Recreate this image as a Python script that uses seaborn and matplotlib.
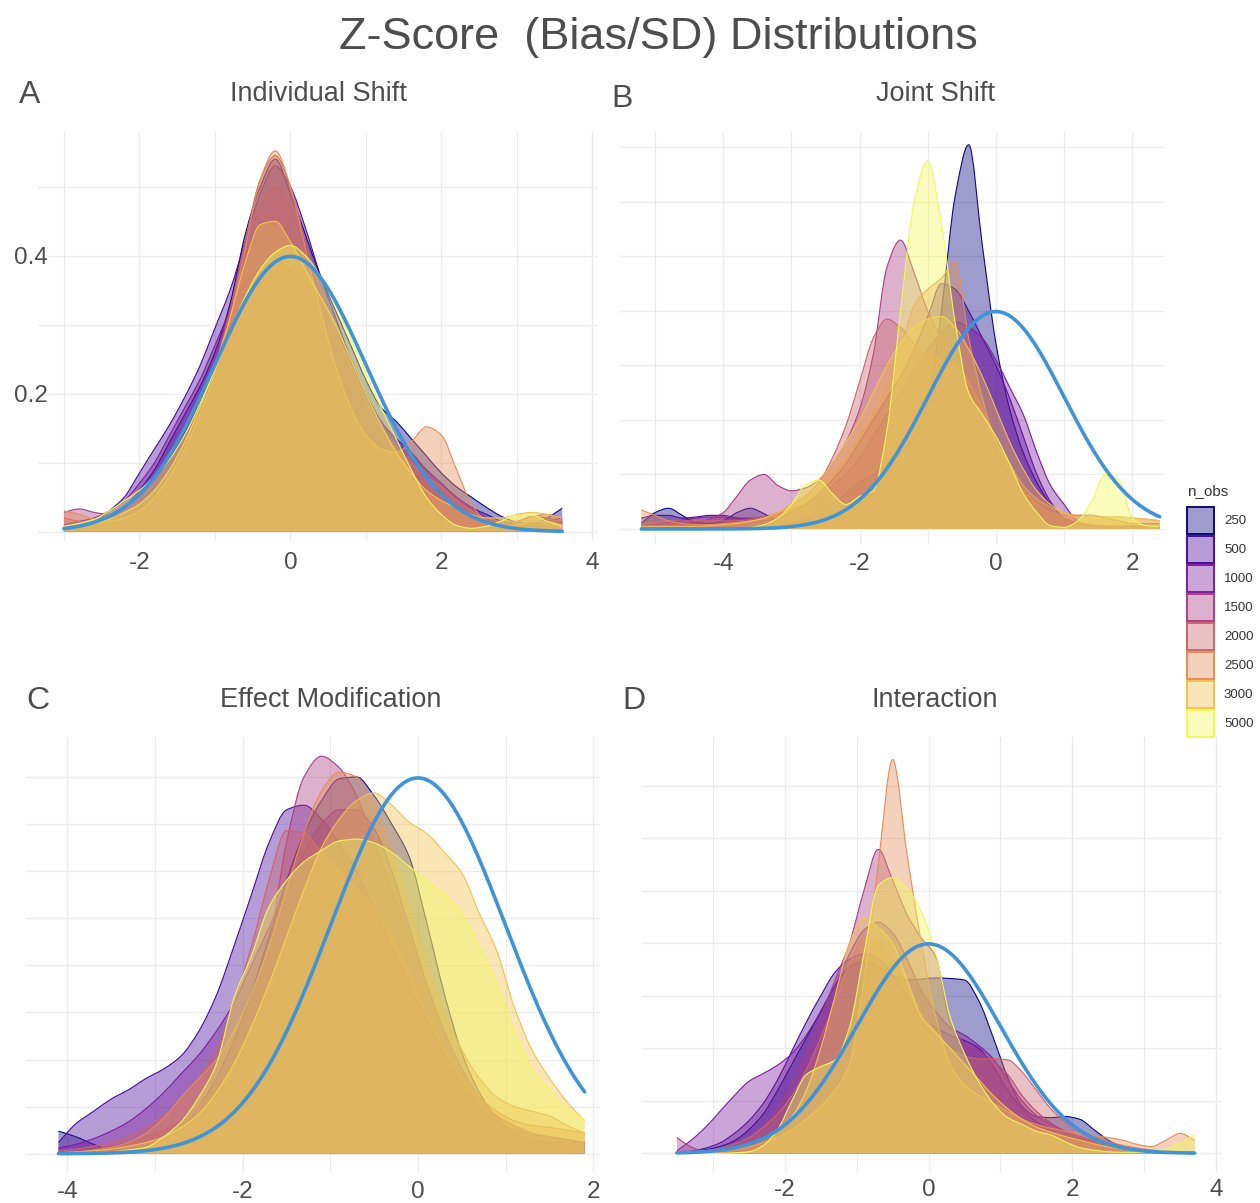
import numpy as np
import pandas as pd
import matplotlib
matplotlib.use("Agg")
import matplotlib.pyplot as plt
from matplotlib.colors import to_rgba
from matplotlib.patches import Patch, PathPatch
from matplotlib.path import Path
import seaborn as sns

# ------------------------------------------------------------------
# Z-score density estimates per sample size (n_obs), evaluated on a
# regular z grid for each simulation scenario.
# ------------------------------------------------------------------
n_obs = [250, 500, 1000, 1500, 2000, 2500, 3000, 5000]

# A: Individual Shift  (z = -3.0 ... 3.6, step 0.2)
x_ind = np.round(np.arange(-3.0, 3.6 + 1e-9, 0.2), 1)
ind_250 = [0.005, 0.006, 0.010, 0.020, 0.035, 0.060, 0.090, 0.130, 0.170, 0.210,
           0.260, 0.330, 0.430, 0.500, 0.540, 0.490, 0.430, 0.370, 0.320, 0.270,
           0.220, 0.180, 0.160, 0.135, 0.110, 0.085, 0.065, 0.050, 0.035, 0.022,
           0.014, 0.012, 0.020, 0.034]
ind_500 = [0.002, 0.004, 0.012, 0.030, 0.050, 0.085, 0.120, 0.155, 0.195, 0.240,
           0.295, 0.350, 0.420, 0.490, 0.530, 0.500, 0.440, 0.370, 0.310, 0.250,
           0.200, 0.160, 0.135, 0.115, 0.090, 0.070, 0.050, 0.035, 0.025, 0.015,
           0.010, 0.008, 0.010, 0.015]
ind_1000 = [0.010, 0.015, 0.020, 0.030, 0.045, 0.070, 0.100, 0.140, 0.180, 0.220,
            0.270, 0.320, 0.360, 0.380, 0.385, 0.380, 0.360, 0.330, 0.290, 0.250,
            0.200, 0.160, 0.130, 0.110, 0.090, 0.070, 0.050, 0.035, 0.020, 0.012,
            0.008, 0.010, 0.015, 0.020]
ind_1500 = [0.028, 0.033, 0.028, 0.025, 0.030, 0.045, 0.070, 0.100, 0.140, 0.190,
            0.250, 0.320, 0.400, 0.470, 0.500, 0.470, 0.410, 0.350, 0.290, 0.230,
            0.180, 0.140, 0.120, 0.100, 0.080, 0.060, 0.040, 0.025, 0.015, 0.012,
            0.015, 0.022, 0.020, 0.012]
ind_2000 = [0.020, 0.015, 0.012, 0.015, 0.025, 0.040, 0.060, 0.090, 0.130, 0.180,
            0.240, 0.320, 0.420, 0.510, 0.545, 0.500, 0.420, 0.350, 0.290, 0.240,
            0.190, 0.150, 0.120, 0.100, 0.080, 0.065, 0.045, 0.030, 0.020, 0.015,
            0.015, 0.022, 0.025, 0.020]
ind_2500 = [0.030, 0.025, 0.018, 0.015, 0.020, 0.030, 0.050, 0.080, 0.120, 0.170,
            0.230, 0.310, 0.410, 0.510, 0.552, 0.500, 0.410, 0.320, 0.240, 0.180,
            0.140, 0.120, 0.115, 0.130, 0.152, 0.140, 0.090, 0.040, 0.015, 0.008,
            0.010, 0.015, 0.015, 0.010]
ind_3000 = [0.005, 0.008, 0.012, 0.018, 0.028, 0.040, 0.060, 0.090, 0.130, 0.180,
            0.240, 0.310, 0.390, 0.445, 0.450, 0.420, 0.380, 0.340, 0.300, 0.250,
            0.200, 0.155, 0.115, 0.085, 0.060, 0.045, 0.035, 0.025, 0.020, 0.020,
            0.025, 0.028, 0.025, 0.020]
ind_5000 = [0.008, 0.012, 0.018, 0.030, 0.045, 0.060, 0.080, 0.105, 0.140, 0.185,
            0.235, 0.290, 0.340, 0.380, 0.405, 0.415, 0.400, 0.370, 0.330, 0.280,
            0.230, 0.180, 0.135, 0.090, 0.050, 0.025, 0.009, 0.005, 0.008, 0.016,
            0.024, 0.024, 0.015, 0.008]

# B: Joint Shift  (z = -5.2 ... 2.4, step 0.2)
x_jnt = np.round(np.arange(-5.2, 2.4 + 1e-9, 0.2), 1)
jnt_250 = [0.010, 0.030, 0.038, 0.025, 0.012, 0.010, 0.015, 0.030, 0.038, 0.028,
           0.015, 0.012, 0.018, 0.030, 0.045, 0.065, 0.085, 0.100, 0.120, 0.140,
           0.170, 0.230, 0.400, 0.610, 0.705, 0.520, 0.340, 0.220, 0.140, 0.085,
           0.045, 0.020, 0.008, 0.005, 0.004, 0.004, 0.004, 0.003, 0.003]
jnt_500 = [0.020, 0.025, 0.025, 0.020, 0.022, 0.025, 0.025, 0.020, 0.018, 0.015,
           0.020, 0.030, 0.045, 0.065, 0.090, 0.120, 0.160, 0.200, 0.240, 0.280,
           0.330, 0.390, 0.450, 0.440, 0.400, 0.350, 0.300, 0.240, 0.170, 0.100,
           0.050, 0.020, 0.010, 0.006, 0.005, 0.005, 0.005, 0.004, 0.003]
jnt_1000 = [0.005, 0.008, 0.012, 0.016, 0.020, 0.022, 0.022, 0.020, 0.020, 0.022,
            0.028, 0.035, 0.045, 0.060, 0.080, 0.100, 0.130, 0.170, 0.210, 0.250,
            0.290, 0.330, 0.360, 0.380, 0.370, 0.350, 0.310, 0.260, 0.210, 0.140,
            0.080, 0.045, 0.014, 0.006, 0.005, 0.005, 0.006, 0.005, 0.004]
jnt_1500 = [0.005, 0.006, 0.008, 0.010, 0.013, 0.018, 0.030, 0.060, 0.090, 0.100,
            0.080, 0.070, 0.075, 0.090, 0.120, 0.160, 0.220, 0.320, 0.480, 0.530,
            0.470, 0.400, 0.350, 0.310, 0.270, 0.220, 0.170, 0.120, 0.080, 0.050,
            0.030, 0.020, 0.012, 0.008, 0.005, 0.004, 0.003, 0.003, 0.002]
jnt_2000 = [0.010, 0.012, 0.015, 0.015, 0.015, 0.015, 0.015, 0.015, 0.018, 0.022,
            0.030, 0.045, 0.060, 0.085, 0.130, 0.190, 0.270, 0.350, 0.385, 0.370,
            0.340, 0.320, 0.310, 0.300, 0.270, 0.220, 0.160, 0.110, 0.070, 0.045,
            0.030, 0.025, 0.025, 0.025, 0.020, 0.015, 0.010, 0.010, 0.010]
jnt_2500 = [0.035, 0.025, 0.015, 0.010, 0.008, 0.008, 0.010, 0.012, 0.015, 0.020,
            0.030, 0.040, 0.055, 0.075, 0.100, 0.130, 0.170, 0.210, 0.260, 0.330,
            0.410, 0.440, 0.460, 0.490, 0.350, 0.240, 0.160, 0.120, 0.080, 0.055,
            0.040, 0.030, 0.025, 0.025, 0.022, 0.022, 0.020, 0.018, 0.015]
jnt_3000 = [0.005, 0.005, 0.005, 0.005, 0.005, 0.006, 0.008, 0.010, 0.014, 0.020,
            0.030, 0.045, 0.065, 0.090, 0.120, 0.160, 0.200, 0.250, 0.300, 0.340,
            0.370, 0.385, 0.390, 0.370, 0.330, 0.280, 0.220, 0.160, 0.110, 0.070,
            0.045, 0.030, 0.022, 0.020, 0.020, 0.022, 0.020, 0.018, 0.015]
jnt_5000 = [0.000, 0.000, 0.000, 0.000, 0.000, 0.000, 0.001, 0.002, 0.003, 0.008,
            0.020, 0.045, 0.080, 0.090, 0.065, 0.045, 0.060, 0.070, 0.180, 0.400,
            0.600, 0.675, 0.560, 0.380, 0.250, 0.210, 0.170, 0.120, 0.065, 0.030,
            0.006, 0.003, 0.015, 0.050, 0.100, 0.090, 0.020, 0.006, 0.004]

# C: Effect Modification  (z = -4.1 ... 1.9, step 0.2)
x_mod = np.round(np.arange(-4.1, 1.9 + 1e-9, 0.2), 1)
mod_250 = [0.024, 0.018, 0.010, 0.004, 0.004, 0.008, 0.015, 0.028, 0.050, 0.080,
           0.120, 0.170, 0.230, 0.290, 0.340, 0.375, 0.398, 0.400, 0.380, 0.350,
           0.315, 0.245, 0.170, 0.107, 0.065, 0.038, 0.022, 0.014, 0.012, 0.012,
           0.012]
mod_500 = [0.012, 0.032, 0.045, 0.058, 0.068, 0.080, 0.090, 0.104, 0.130, 0.168,
           0.220, 0.275, 0.330, 0.365, 0.370, 0.355, 0.330, 0.300, 0.260, 0.220,
           0.180, 0.140, 0.105, 0.075, 0.050, 0.035, 0.025, 0.020, 0.018, 0.015,
           0.012]
mod_1000 = [0.006, 0.010, 0.016, 0.024, 0.034, 0.048, 0.065, 0.085, 0.105, 0.130,
            0.160, 0.200, 0.240, 0.280, 0.320, 0.350, 0.365, 0.365, 0.345, 0.300,
            0.240, 0.180, 0.130, 0.090, 0.060, 0.040, 0.030, 0.022, 0.018, 0.015,
            0.012]
mod_1500 = [0.002, 0.003, 0.005, 0.008, 0.012, 0.018, 0.025, 0.035, 0.050, 0.070,
            0.100, 0.150, 0.220, 0.330, 0.400, 0.422, 0.410, 0.380, 0.330, 0.280,
            0.230, 0.180, 0.130, 0.090, 0.060, 0.040, 0.028, 0.020, 0.015, 0.012,
            0.010]
mod_2000 = [0.003, 0.005, 0.008, 0.012, 0.018, 0.028, 0.040, 0.058, 0.080, 0.110,
            0.160, 0.220, 0.290, 0.343, 0.340, 0.320, 0.300, 0.280, 0.260, 0.230,
            0.190, 0.150, 0.110, 0.080, 0.060, 0.045, 0.035, 0.030, 0.028, 0.025,
            0.022]
mod_2500 = [0.001, 0.002, 0.004, 0.007, 0.012, 0.022, 0.038, 0.060, 0.080, 0.100,
            0.130, 0.170, 0.220, 0.280, 0.340, 0.385, 0.405, 0.400, 0.370, 0.320,
            0.260, 0.200, 0.150, 0.110, 0.080, 0.060, 0.050, 0.045, 0.040, 0.030,
            0.022]
mod_3000 = [0.001, 0.002, 0.003, 0.005, 0.008, 0.012, 0.018, 0.028, 0.042, 0.065,
            0.095, 0.135, 0.180, 0.230, 0.280, 0.325, 0.355, 0.375, 0.383, 0.370,
            0.352, 0.340, 0.320, 0.298, 0.255, 0.215, 0.155, 0.110, 0.080, 0.055,
            0.035]
mod_5000 = [0.000, 0.000, 0.001, 0.002, 0.004, 0.007, 0.018, 0.034, 0.060, 0.095,
            0.165, 0.210, 0.262, 0.290, 0.310, 0.322, 0.332, 0.334, 0.330, 0.320,
            0.305, 0.290, 0.275, 0.255, 0.220, 0.180, 0.130, 0.090, 0.068, 0.048,
            0.036]

# D: Interaction  (z = -3.5 ... 3.7, step 0.2)
x_int = np.round(np.arange(-3.5, 3.7 + 1e-9, 0.2), 1)
int_250 = [0.001, 0.003, 0.007, 0.013, 0.024, 0.045, 0.075, 0.120, 0.170, 0.220,
           0.270, 0.320, 0.355, 0.365, 0.355, 0.340, 0.330, 0.332, 0.334, 0.333,
           0.330, 0.290, 0.220, 0.145, 0.090, 0.070, 0.068, 0.070, 0.065, 0.045,
           0.025, 0.012, 0.005, 0.003, 0.002, 0.001, 0.001]
int_500 = [0.001, 0.004, 0.010, 0.020, 0.038, 0.062, 0.095, 0.140, 0.195, 0.250,
           0.300, 0.345, 0.370, 0.380, 0.370, 0.340, 0.300, 0.260, 0.240, 0.225,
           0.215, 0.200, 0.165, 0.120, 0.085, 0.060, 0.048, 0.040, 0.030, 0.020,
           0.012, 0.007, 0.004, 0.003, 0.002, 0.001, 0.001]
int_1000 = [0.005, 0.025, 0.050, 0.080, 0.110, 0.137, 0.152, 0.168, 0.190, 0.225,
            0.270, 0.320, 0.380, 0.425, 0.440, 0.420, 0.370, 0.310, 0.270, 0.240,
            0.225, 0.205, 0.180, 0.140, 0.100, 0.072, 0.055, 0.042, 0.032, 0.024,
            0.017, 0.011, 0.007, 0.004, 0.003, 0.002, 0.001]
int_1500 = [0.030, 0.012, 0.004, 0.004, 0.012, 0.025, 0.050, 0.085, 0.130, 0.190,
            0.260, 0.330, 0.400, 0.500, 0.579, 0.520, 0.455, 0.410, 0.375, 0.250,
            0.210, 0.195, 0.175, 0.150, 0.110, 0.080, 0.058, 0.042, 0.030, 0.020,
            0.012, 0.008, 0.005, 0.003, 0.002, 0.002, 0.001]
int_2000 = [0.000, 0.002, 0.005, 0.010, 0.018, 0.030, 0.050, 0.075, 0.110, 0.160,
            0.220, 0.290, 0.360, 0.410, 0.405, 0.370, 0.320, 0.270, 0.230, 0.200,
            0.185, 0.180, 0.180, 0.178, 0.155, 0.120, 0.085, 0.060, 0.045, 0.032,
            0.022, 0.015, 0.010, 0.006, 0.004, 0.003, 0.002]
int_2500 = [0.000, 0.001, 0.002, 0.004, 0.007, 0.012, 0.020, 0.030, 0.045, 0.065,
            0.090, 0.120, 0.170, 0.330, 0.550, 0.750, 0.570, 0.400, 0.260, 0.170,
            0.130, 0.110, 0.095, 0.080, 0.065, 0.055, 0.048, 0.042, 0.038, 0.034,
            0.030, 0.025, 0.017, 0.013, 0.025, 0.038, 0.025]
int_3000 = [0.000, 0.001, 0.003, 0.006, 0.010, 0.017, 0.028, 0.045, 0.070, 0.120,
            0.200, 0.300, 0.400, 0.448, 0.430, 0.400, 0.330, 0.260, 0.230, 0.200,
            0.170, 0.140, 0.110, 0.085, 0.065, 0.050, 0.040, 0.032, 0.025, 0.018,
            0.012, 0.008, 0.005, 0.004, 0.003, 0.002, 0.002]
int_5000 = [0.000, 0.000, 0.000, 0.000, 0.001, 0.003, 0.015, 0.045, 0.100, 0.150,
            0.165, 0.178, 0.240, 0.380, 0.510, 0.525, 0.505, 0.460, 0.380, 0.260,
            0.190, 0.135, 0.095, 0.068, 0.055, 0.042, 0.035, 0.022, 0.011, 0.006,
            0.003, 0.002, 0.002, 0.003, 0.008, 0.020, 0.035]

ind = dict(zip(n_obs, [ind_250, ind_500, ind_1000, ind_1500, ind_2000, ind_2500, ind_3000, ind_5000]))
jnt = dict(zip(n_obs, [jnt_250, jnt_500, jnt_1000, jnt_1500, jnt_2000, jnt_2500, jnt_3000, jnt_5000]))
mod = dict(zip(n_obs, [mod_250, mod_500, mod_1000, mod_1500, mod_2000, mod_2500, mod_3000, mod_5000]))
inter = dict(zip(n_obs, [int_250, int_500, int_1000, int_1500, int_2000, int_2500, int_3000, int_5000]))

# ------------------------------------------------------------------
# Styling
# ------------------------------------------------------------------
sns.set_theme(style="white")
plt.rcParams["font.family"] = ["Liberation Sans", "DejaVu Sans"]
plt.rcParams["axes.unicode_minus"] = False

TEXT = "#4D4D4D"
GRID = "#EBEBEB"
NORM_BLUE = "#3F93D9"
FILL_ALPHA = 0.40


def to_display_p3(color):
    """Express an sRGB colour in Display-P3 coordinates."""
    c = np.asarray(to_rgba(color)[:3], float)
    lin = np.where(c <= 0.04045, c / 12.92, ((c + 0.055) / 1.055) ** 2.4)
    m = np.array([[0.8225, 0.1774, 0.0000],
                  [0.0332, 0.9669, 0.0000],
                  [0.0171, 0.0724, 0.9108]])
    p = np.clip(m @ lin, 0, 1)
    enc = np.where(p <= 0.0031308, 12.92 * p, 1.055 * p ** (1 / 2.4) - 0.055)
    return tuple(np.clip(enc, 0, 1))


palette = [to_display_p3(matplotlib.colormaps["plasma"](v))
           for v in np.linspace(0, 1, len(n_obs))]


def density_path(x, y, closed=False):
    """Smooth monotone (Fritsch-Butland) Bezier path through the density samples."""
    x = np.asarray(x, float)
    y = np.asarray(y, float)
    h = np.diff(x)
    d = np.diff(y) / h
    m = np.zeros_like(y)
    for i in range(1, len(y) - 1):
        if d[i - 1] * d[i] > 0:
            m[i] = 2.0 / (1.0 / d[i - 1] + 1.0 / d[i])
    m[0], m[-1] = d[0], d[-1]
    verts = [(x[0], y[0])]
    codes = [Path.MOVETO]
    for i in range(len(x) - 1):
        verts += [(x[i] + h[i] / 3, y[i] + m[i] * h[i] / 3),
                  (x[i + 1] - h[i] / 3, y[i + 1] - m[i + 1] * h[i] / 3),
                  (x[i + 1], y[i + 1])]
        codes += [Path.CURVE4] * 3
    if closed:
        verts += [(x[-1], 0.0), (x[0], 0.0), (x[0], 0.0)]
        codes += [Path.LINETO, Path.LINETO, Path.CLOSEPOLY]
    return Path(verts, codes)


W, H = 1260, 1203
fig = plt.figure(figsize=(W / 100, H / 100), dpi=100)
fig.patch.set_facecolor("white")


def frac_box(l, r, t, b):
    return [l / W, 1 - b / H, (r - l) / W, (b - t) / H]


panels = [
    dict(tag="A", title="Individual Shift", x=x_ind, dens=ind,
         box=(38, 598, 132, 541), xlim=(-3.343, 4.074), ylim=(-0.0135, 0.5793),
         xmajor=[-2, 0, 2, 4], xminor=[-3, -1, 1, 3],
         ygrid=[0.0, 0.1, 0.2, 0.3, 0.4, 0.5], ylab={0.2: "0.2", 0.4: "0.4"},
         xpad=8.0, tag_xy=(30, 103), title_xy=(318, 101)),
    dict(tag="B", title="Joint Shift", x=x_jnt, dens=jnt,
         box=(620, 1165, 132, 545), xlim=(-5.513, 2.478), ylim=(-0.0294, 0.7284),
         xmajor=[-4, -2, 0, 2], xminor=[-5, -3, -1, 1],
         ygrid=[0.0, 0.1, 0.2, 0.3, 0.4, 0.5, 0.6, 0.7], ylab={},
         xpad=5.5, tag_xy=(622, 107), title_xy=(935, 101)),
    dict(tag="C", title="Effect Modification", x=x_mod, dens=mod,
         box=(26, 600, 737, 1172), xlim=(-4.47, 2.075), ylim=(-0.0194, 0.4424),
         xmajor=[-4, -2, 0, 2], xminor=[-3, -1, 1],
         ygrid=list(np.round(np.arange(0, 0.401, 0.05), 2)), ylab={},
         xpad=6.5, tag_xy=(38, 709), title_xy=(331, 707)),
    dict(tag="D", title="Interaction", x=x_int, dens=inter,
         box=(642, 1222, 737, 1173), xlim=(-3.985, 4.08), ylim=(-0.0375, 0.793),
         xmajor=[-2, 0, 2, 4], xminor=[-3, -1, 1, 3],
         ygrid=[0.0, 0.1, 0.2, 0.3, 0.4, 0.5, 0.6, 0.7], ylab={},
         xpad=4.5, tag_xy=(634, 709), title_xy=(935, 707)),
]

for p in panels:
    ax = fig.add_axes(frac_box(*p["box"]))
    ax.set_facecolor("white")
    xs = p["x"]

    # one filled density per sample size, drawn in increasing n_obs order
    for i, n in enumerate(n_obs):
        ys = p["dens"][n]
        col = palette[i]
        ax.add_patch(PathPatch(density_path(xs, ys, closed=True), facecolor=col,
                               alpha=FILL_ALPHA, linewidth=0, zorder=2 + 2 * i))
        ax.add_patch(PathPatch(density_path(xs, ys), facecolor="none",
                               edgecolor=col, linewidth=0.8, zorder=3 + 2 * i))

    # standard normal reference density
    zz = np.linspace(xs[0], xs[-1], 400)
    norm_df = pd.DataFrame({"z": zz, "density": np.exp(-zz ** 2 / 2) / np.sqrt(2 * np.pi)})
    sns.lineplot(data=norm_df, x="z", y="density", color=NORM_BLUE, linewidth=2.6,
                 estimator=None, sort=False, ax=ax, zorder=60)

    ax.set_xlim(*p["xlim"])
    ax.set_ylim(*p["ylim"])
    ax.set_xticks(p["xmajor"])
    ax.set_xticklabels([str(v) for v in p["xmajor"]])
    ax.set_xticks(p["xminor"], minor=True)
    ax.set_yticks(p["ygrid"])
    ax.set_yticklabels([p["ylab"].get(round(v, 2), "") for v in p["ygrid"]])
    ax.set_xlabel("")
    ax.set_ylabel("")
    ax.set_axisbelow(True)
    ax.grid(True, which="major", color=GRID, linewidth=1.0)
    ax.grid(True, which="minor", axis="x", color=GRID, linewidth=0.8)
    for s in ax.spines.values():
        s.set_visible(False)
    ax.tick_params(which="both", length=0, labelsize=17.5, labelcolor=TEXT)
    ax.tick_params(axis="x", pad=p["xpad"])
    ax.tick_params(axis="y", pad=-7.2)
    for lab in ax.get_yticklabels():
        lab.set_bbox(dict(facecolor="white", edgecolor="none", pad=1.0))

    fig.text(p["tag_xy"][0] / W, 1 - p["tag_xy"][1] / H, p["tag"],
             fontsize=23, color=TEXT, ha="center", va="baseline")
    fig.text(p["title_xy"][0] / W, 1 - p["title_xy"][1] / H, p["title"],
             fontsize=19.5, color=TEXT, ha="center", va="baseline")

fig.text(658.5 / W, 1 - 49 / H, "Z-Score  (Bias/SD) Distributions",
         fontsize=32.5, color=TEXT, ha="center", va="baseline")

# legend
fig.text(1187 / W, 1 - 495 / H, "n_obs", fontsize=11, color="#333333",
         ha="left", va="baseline")
handles = [Patch(facecolor=to_rgba(c, FILL_ALPHA), edgecolor=c, linewidth=1.4)
           for c in palette]
fig.legend(handles, [str(n) for n in n_obs], loc="upper left",
           bbox_to_anchor=(1187 / W, 1 - 507 / H), frameon=False,
           fontsize=9.5, labelcolor="#333333", handlelength=2.05,
           handleheight=2.77, labelspacing=0.15, handletextpad=0.75,
           borderpad=0, borderaxespad=0)

fig.savefig("out.png", dpi=100, facecolor="white")
